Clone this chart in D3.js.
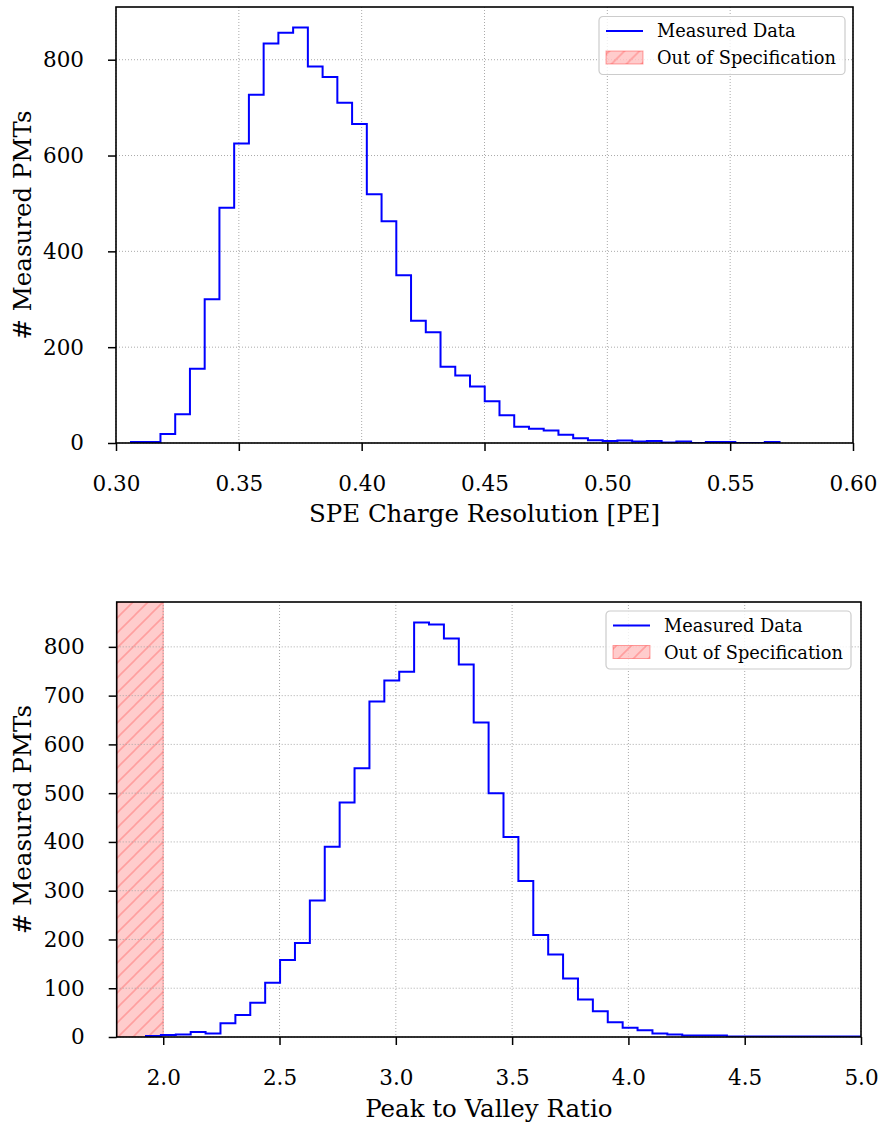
<!DOCTYPE html>
<html>
<head>
<meta charset="utf-8">
<script src="https://cdn.jsdelivr.net/npm/d3@7"></script>
<style>
  html, body { margin: 0; padding: 0; background: #fff; }
  svg { display: block; }
  text { font-family: "DejaVu Serif", serif; fill: #000; }
</style>
</head>
<body>
<svg id="chart" width="881" height="1124"></svg>
<script>
// ---------------- DATA ----------------
// Top: SPE charge resolution histogram
const speBinStart = 0.3061;
const speBinWidth = 0.006;
const speCounts = [2, 2, 19, 60, 155, 300, 491, 625, 727, 834, 856, 867, 786, 764, 710, 666,
  519, 463, 350, 255, 231, 159, 141, 118, 87, 58, 34, 30, 26, 17, 10, 6, 4, 5, 3, 4, 1, 3,
  0, 2, 2, 0, 0, 2];
const speXTicks = [0.30, 0.35, 0.40, 0.45, 0.50, 0.55, 0.60];
const speYTicks = [0, 200, 400, 600, 800];
const speXDomain = [0.30, 0.60];
const speYDomain = [0, 910];

// Bottom: Peak to valley ratio histogram
const pvBinStart = 1.926;
const pvBinWidth = 0.06404;
const pvCounts = [2, 4, 5, 10, 7, 28, 45, 70, 111, 158, 193, 280, 390, 481, 551, 688, 731,
  749, 850, 846, 817, 764, 645, 500, 410, 320, 209, 169, 120, 77, 53, 30, 19, 14, 7, 5, 3, 3,
  3, 1, 1, 1, 1, 1, 1, 1, 1, 1];
const pvXTicks = [2.0, 2.5, 3.0, 3.5, 4.0, 4.5, 5.0];
const pvYTicks = [0, 100, 200, 300, 400, 500, 600, 700, 800];
const pvXDomain = [1.8, 5.0];
const pvYDomain = [0, 892];
const pvSpecSpan = [1.8, 2.0];   // out-of-specification region

const legendLabels = ["Measured Data", "Out of Specification"];
const xLabels = ["SPE Charge Resolution [PE]", "Peak to Valley Ratio"];
const yLabel = "# Measured PMTs";

// ---------------- DRAW ----------------
const svg = d3.select("#chart");
const defs = svg.append("defs");

// hatch pattern for the spec region
const pat = defs.append("pattern")
  .attr("id", "hatch").attr("patternUnits", "userSpaceOnUse")
  .attr("width", 15).attr("height", 15);
pat.append("rect").attr("width", 15).attr("height", 15).attr("fill", "rgba(255,0,0,0.2)");
pat.append("path").attr("d", "M-4,4 L4,-4 M0,15 L15,0 M11,19 L19,11")
  .attr("stroke", "rgba(255,0,0,0.22)").attr("stroke-width", 1.6);

function drawPanel(opt) {
  const {L, R, T, B, id} = opt;
  const g = svg.append("g");
  const x = d3.scaleLinear().domain(opt.xDomain).range([L, R]);
  const y = d3.scaleLinear().domain(opt.yDomain).range([B, T]);

  defs.append("clipPath").attr("id", "clip" + id)
    .append("rect").attr("x", L).attr("y", T).attr("width", R - L).attr("height", B - T);

  // spec span
  if (opt.span) {
    const sg = g.append("g").attr("clip-path", `url(#clip${id})`);
    sg.append("rect")
      .attr("x", x(opt.span[0])).attr("y", T)
      .attr("width", x(opt.span[1]) - x(opt.span[0])).attr("height", B - T)
      .attr("fill", "url(#hatch)")
      .attr("stroke", "rgba(255,0,0,0.35)").attr("stroke-width", 1);
  }

  // grid
  const grid = g.append("g").attr("stroke", "#a0a0a0").attr("stroke-width", 0.9)
    .attr("stroke-dasharray", "1,2").attr("fill", "none");
  opt.xTicks.forEach(t => grid.append("line")
    .attr("x1", x(t)).attr("x2", x(t)).attr("y1", T).attr("y2", B));
  opt.yTicks.forEach(t => grid.append("line")
    .attr("x1", L).attr("x2", R).attr("y1", y(t)).attr("y2", y(t)));

  // histogram step outline
  const n = opt.counts.length;
  const pts = [[opt.binStart, 0]];
  opt.counts.forEach((c, i) => pts.push([opt.binStart + i * opt.binWidth, c]));
  pts.push([opt.binStart + n * opt.binWidth, 0]);
  const line = d3.line().x(d => x(d[0])).y(d => y(d[1])).curve(d3.curveStepAfter);
  g.append("path").attr("clip-path", `url(#clip${id})`)
    .attr("d", line(pts)).attr("fill", "none")
    .attr("stroke", "#0000ff").attr("stroke-width", 2).attr("stroke-linejoin", "miter");

  // axes
  const xAxis = d3.axisBottom(x).tickValues(opt.xTicks).tickFormat(opt.xFmt)
    .tickSize(8).tickPadding(24.5);
  const yAxis = d3.axisLeft(y).tickValues(opt.yTicks).tickFormat(d3.format("d"))
    .tickSize(8).tickPadding(24);
  const gx = g.append("g").attr("transform", `translate(0,${B})`).call(xAxis);
  const gy = g.append("g").attr("transform", `translate(${L},0)`).call(yAxis);
  [gx, gy].forEach(a => {
    a.select(".domain").remove();
    a.selectAll(".tick line").attr("stroke", "#000").attr("stroke-width", 1.5);
    a.selectAll(".tick text").style("font-family", "DejaVu Serif").style("font-size", "21.5px")
      .attr("fill", "#000");
  });

  // frame
  g.append("rect").attr("x", L).attr("y", T).attr("width", R - L).attr("height", B - T)
    .attr("fill", "none").attr("stroke", "#000").attr("stroke-width", 1.6);

  // labels
  g.append("text").attr("x", (L + R) / 2).attr("y", opt.xLabelY)
    .attr("text-anchor", "middle").style("font-size", "24.5px").text(opt.xLabel);
  g.append("text")
    .attr("transform", `translate(${opt.yLabelX},${(T + B) / 2}) rotate(-90)`)
    .attr("text-anchor", "middle").style("font-size", "24.5px").text(yLabel);

  // legend
  const lg = g.append("g").attr("transform", `translate(${opt.legX},${opt.legY})`);
  lg.append("rect").attr("x", 0).attr("y", 0).attr("width", opt.legW).attr("height", 58)
    .attr("rx", 4).attr("fill", "rgba(255,255,255,0.8)")
    .attr("stroke", "#cccccc").attr("stroke-width", 1.2);
  lg.append("line").attr("x1", 7).attr("x2", 44).attr("y1", 14.5).attr("y2", 14.5)
    .attr("stroke", "#0000ff").attr("stroke-width", 2);
  lg.append("rect").attr("x", 7).attr("y", 34.5).attr("width", 37).attr("height", 13)
    .attr("fill", "url(#hatch)").attr("stroke", "rgba(255,0,0,0.35)").attr("stroke-width", 1);
  lg.append("text").attr("x", 58).attr("y", 20.5).style("font-size", "17.8px").text(legendLabels[0]);
  lg.append("text").attr("x", 58).attr("y", 47.5).style("font-size", "17.8px").text(legendLabels[1]);
}

drawPanel({
  id: 1, L: 116, R: 853, T: 7, B: 443,
  xDomain: speXDomain, yDomain: speYDomain,
  xTicks: speXTicks, yTicks: speYTicks, xFmt: d3.format(".2f"),
  counts: speCounts, binStart: speBinStart, binWidth: speBinWidth,
  xLabel: xLabels[0], xLabelY: 522, yLabelX: 31,
  legX: 599, legY: 16.5, legW: 246
});

drawPanel({
  id: 2, L: 116.7, R: 861, T: 602, B: 1037,
  xDomain: pvXDomain, yDomain: pvYDomain,
  xTicks: pvXTicks, yTicks: pvYTicks, xFmt: d3.format(".1f"),
  counts: pvCounts, binStart: pvBinStart, binWidth: pvBinWidth,
  span: pvSpecSpan,
  xLabel: xLabels[1], xLabelY: 1117, yLabelX: 31,
  legX: 606, legY: 611, legW: 245
});
</script>
</body>
</html>
